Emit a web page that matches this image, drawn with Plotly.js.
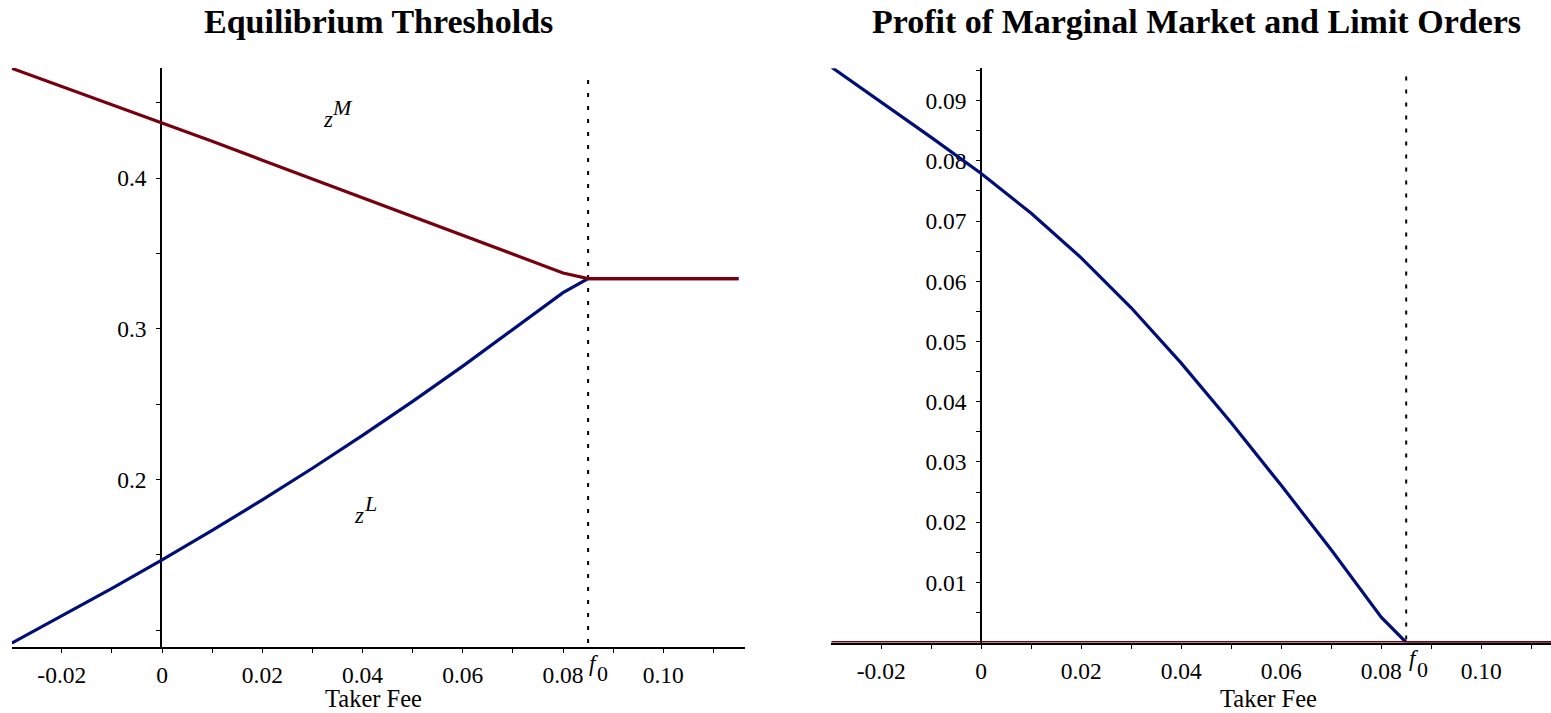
<!DOCTYPE html>
<html>
<head>
<meta charset="utf-8">
<script src="https://cdn.plot.ly/plotly-3.0.1.min.js"></script>
<style>
  html, body { margin: 0; padding: 0; background: #fff; }
  #chart { width: 1551px; height: 713px; }
</style>
</head>
<body>
<div id="chart"></div>
<script>
// Taker fee grid shared by both panels
const fee = [-0.03, -0.02, -0.01, 0, 0.01, 0.02, 0.03, 0.04, 0.05, 0.06, 0.07, 0.08, 0.085, 0.115];

// Equilibrium thresholds: market-order cutoff z^M and limit-order cutoff z^L
const thresholdM = [0.4730, 0.4610, 0.4490, 0.4369, 0.4245, 0.4120, 0.3995, 0.3870, 0.3745, 0.3620, 0.3496, 0.3371, 0.3333, 0.3333];
const thresholdL = [0.0913, 0.1092, 0.1277, 0.1465, 0.1661, 0.1864, 0.2074, 0.2292, 0.2518, 0.2752, 0.2993, 0.3240, 0.3333, 0.3333];

// Profit of the marginal market order and the marginal limit order
const profitMarket = [0.0956, 0.0898, 0.0839, 0.0779, 0.0713, 0.0639, 0.0556, 0.0464, 0.0365, 0.0261, 0.0154, 0.0042, 0.0, 0.0];
const profitLimit  = [0, 0, 0, 0, 0, 0, 0, 0, 0, 0, 0, 0, 0, 0];

// Critical fee f0 and the span of its marker line in each panel
const f0 = 0.085;
const f0SpanLeft = [0.4653, 0.0895];
const f0SpanRight = [0.0940, 0.0];

// Tick positions and labels
const xTickVals = [-0.02, -0.01, 0, 0.01, 0.02, 0.03, 0.04, 0.05, 0.06, 0.07, 0.08, 0.09, 0.10, 0.11];
const xTickText = ['-0.02', '', '0', '', '0.02', '', '0.04', '', '0.06', '', '0.08', '', '0.10', ''];
const yTickValsLeft = [0.10, 0.15, 0.20, 0.25, 0.30, 0.35, 0.40, 0.45];
const yTickTextLeft = ['', '', '0.2', '', '0.3', '', '0.4', ''];
const yTickValsRight = [0.005, 0.01, 0.015, 0.02, 0.025, 0.03, 0.035, 0.04, 0.045, 0.05, 0.055, 0.06, 0.065, 0.07, 0.075, 0.08, 0.085, 0.09, 0.095];
const yTickTextRight = ['', '0.01', '', '0.02', '', '0.03', '', '0.04', '', '0.05', '', '0.06', '', '0.07', '', '0.08', '', '0.09', ''];

const RED = '#78000E';
const BLUE = '#000E78';
const SERIF = 'Liberation Serif, Times New Roman, serif';

const traces = [
  { x: [f0, f0], y: f0SpanLeft, xaxis: 'x', yaxis: 'y', mode: 'lines',
    line: { color: '#000', width: 2, dash: '4px,9px' }, hoverinfo: 'skip' },
  { x: fee, y: thresholdL, xaxis: 'x', yaxis: 'y', mode: 'lines', name: 'z^L',
    line: { color: BLUE, width: 3.2 } },
  { x: fee, y: thresholdM, xaxis: 'x', yaxis: 'y', mode: 'lines', name: 'z^M',
    line: { color: RED, width: 3.2 } },
  { x: [f0, f0], y: f0SpanRight, xaxis: 'x2', yaxis: 'y2', mode: 'lines',
    line: { color: '#000', width: 2, dash: '4px,9px' }, hoverinfo: 'skip' },
  { x: fee, y: profitMarket, xaxis: 'x2', yaxis: 'y2', mode: 'lines', name: 'market',
    line: { color: BLUE, width: 3.2 } },
  { x: fee, y: profitLimit, xaxis: 'x2', yaxis: 'y2', mode: 'lines', name: 'limit',
    line: { color: RED, width: 3.2 } }
];

const tickFont = { family: SERIF, size: 23.5, color: '#000' };

function xAxis(domain, range, anchor) {
  return {
    domain: domain, range: range, anchor: anchor,
    showgrid: false, zeroline: false,
    showline: true, linecolor: '#000', linewidth: 2,
    ticks: 'outside', ticklen: 4, tickwidth: 1, tickcolor: '#000',
    tickmode: 'array', tickvals: xTickVals, ticktext: xTickText,
    tickfont: tickFont, ticklabelstandoff: 2,
    layer: 'below traces', fixedrange: true
  };
}

function yAxis(domain, range, position, vals, text) {
  return {
    domain: domain, range: range, anchor: 'free', position: position,
    showgrid: false, zeroline: false,
    showline: true, linecolor: '#000', linewidth: 2,
    ticks: 'outside', ticklen: 4, tickwidth: 1, tickcolor: '#000',
    tickmode: 'array', tickvals: vals, ticktext: text,
    tickfont: tickFont, ticklabelstandoff: 5,
    layer: 'below traces', fixedrange: true
  };
}

function label(text, x, y, xref, yref, size) {
  return {
    text: text, x: x, y: y, xref: xref, yref: yref,
    xanchor: 'center', yanchor: 'middle', showarrow: false,
    font: { family: SERIF, size: size, color: '#000' }
  };
}

const annotations = [
  label('<b>Equilibrium Thresholds</b>', 378 / 1551, 1 - 22 / 713, 'paper', 'paper', 34),
  label('<b>Profit of Marginal Market and Limit Orders</b>', 1196 / 1551, 1 - 22 / 713, 'paper', 'paper', 34),
  label('Taker Fee', 373 / 1551, 1 - 698 / 713, 'paper', 'paper', 24.5),
  label('Taker Fee', 1268 / 1551, 1 - 698 / 713, 'paper', 'paper', 24.5),
  label('<i>z</i>', 0.0331, 0.4387, 'x', 'y', 23),
  label('<i>M</i>', 0.0360, 0.4473, 'x', 'y', 22),
  label('<i>z</i>', 0.0392, 0.1758, 'x', 'y', 23),
  label('<i>L</i>', 0.0415, 0.1837, 'x', 'y', 22),
  label('<i>f</i>', 0.0862, 1 - 663 / 713, 'x', 'paper', 23),
  label('0', 0.0878, 1 - 673.5 / 713, 'x', 'paper', 22),
  label('<i>f</i>', 0.0866, 1 - 658.6 / 713, 'x2', 'paper', 23),
  label('0', 0.0882, 1 - 669 / 713, 'x2', 'paper', 22)
];

const layout = {
  width: 1551, height: 713,
  margin: { l: 0, r: 0, t: 0, b: 0, pad: 0 },
  paper_bgcolor: '#fff', plot_bgcolor: '#fff',
  showlegend: false,
  xaxis: xAxis([11.7 / 1551, 745 / 1551], [-0.03, 0.1163], 'y'),
  yaxis: yAxis([1 - 646.7 / 713, 1 - 68 / 713], [0.08891, 0.4732], 161.3 / 1551, yTickValsLeft, yTickTextLeft),
  xaxis2: xAxis([831.2 / 1551, 1], [-0.03, 0.11396], 'y2'),
  yaxis2: yAxis([1 - 642.5 / 713, 1 - 68.3 / 713], [0, 0.09538], 981.2 / 1551, yTickValsRight, yTickTextRight),
  annotations: annotations
};

Plotly.newPlot('chart', traces, layout, { staticPlot: true, displayModeBar: false });
</script>
</body>
</html>
